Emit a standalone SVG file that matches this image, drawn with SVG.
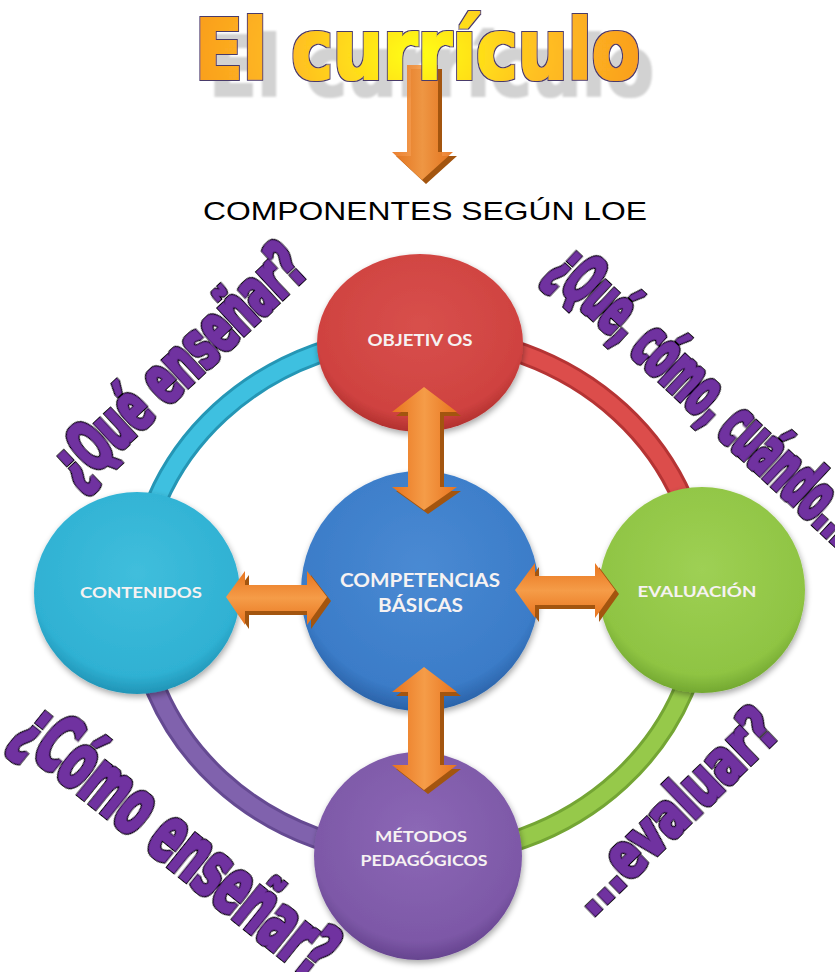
<svg xmlns="http://www.w3.org/2000/svg" width="835" height="972" viewBox="0 0 835 972">
<defs>
<style>
.corner{font-family:"Liberation Sans Narrow","DejaVu Sans Condensed","Liberation Sans",sans-serif;font-weight:bold;fill:#7030a0;filter:url(#fatPurple)}
.lbl{font-family:Lato,"Open Sans","Liberation Sans",sans-serif;font-weight:bold;fill:#f6f2f2;text-anchor:middle}
.ringdark{fill:none;stroke-width:22;stroke-linecap:butt}
.ringmain{fill:none;stroke-width:16}
.ah{fill:#a3550f}
.ttl{font-family:"Liberation Sans Narrow","DejaVu Sans Condensed","Liberation Sans",sans-serif;font-weight:bold;font-size:84px}
</style>
<radialGradient id="gTitle" cx="0.5" cy="0.55" r="0.6" gradientTransform="translate(0.5 0.55) scale(1 3) translate(-0.5 -0.55)">
<stop offset="0" stop-color="#ffff10"/><stop offset="0.45" stop-color="#ffc020"/><stop offset="1" stop-color="#f7901e"/>
</radialGradient>
<radialGradient id="gRed" cx="0.5" cy="0.4" r="0.6"><stop offset="0" stop-color="#d8504c"/><stop offset="0.85" stop-color="#cf4240"/><stop offset="1" stop-color="#b1302e"/></radialGradient>
<radialGradient id="gBlue" cx="0.5" cy="0.4" r="0.6"><stop offset="0" stop-color="#4a8ad3"/><stop offset="0.85" stop-color="#3b7cc8"/><stop offset="1" stop-color="#2a62a8"/></radialGradient>
<radialGradient id="gCyan" cx="0.5" cy="0.4" r="0.6"><stop offset="0" stop-color="#40bedc"/><stop offset="0.85" stop-color="#2fb1d3"/><stop offset="1" stop-color="#2194b6"/></radialGradient>
<radialGradient id="gGreen" cx="0.5" cy="0.4" r="0.6"><stop offset="0" stop-color="#9ed054"/><stop offset="0.85" stop-color="#8fc443"/><stop offset="1" stop-color="#73a831"/></radialGradient>
<radialGradient id="gPurple" cx="0.5" cy="0.4" r="0.6"><stop offset="0" stop-color="#8c68b6"/><stop offset="0.85" stop-color="#7d58a7"/><stop offset="1" stop-color="#66448f"/></radialGradient>
<linearGradient id="gArrV" x1="0" y1="0" x2="1" y2="0"><stop offset="0" stop-color="#e8741e"/><stop offset="0.5" stop-color="#f59c48"/><stop offset="1" stop-color="#e8741e"/></linearGradient>
<linearGradient id="gArrH" x1="0" y1="0" x2="0" y2="1"><stop offset="0" stop-color="#e8741e"/><stop offset="0.5" stop-color="#f59c48"/><stop offset="1" stop-color="#e8741e"/></linearGradient>
<filter id="shadow" x="-20%" y="-20%" width="140%" height="140%"><feGaussianBlur in="SourceAlpha" stdDeviation="3"/><feOffset dx="1" dy="3"/><feComponentTransfer><feFuncA type="linear" slope="0.35"/></feComponentTransfer><feMerge><feMergeNode/><feMergeNode in="SourceGraphic"/></feMerge></filter>
<filter id="blur1" x="-5%" y="-20%" width="110%" height="140%"><feMorphology operator="dilate" radius="1"/><feGaussianBlur stdDeviation="1"/></filter>
<filter id="fatPurple" x="-10%" y="-30%" width="120%" height="160%">
<feMorphology in="SourceAlpha" operator="dilate" radius="2.2" result="o"/>
<feFlood flood-color="#000000"/><feComposite in2="o" operator="in" result="black"/>
<feMorphology in="SourceGraphic" operator="dilate" radius="0.5" result="p"/>
<feMerge><feMergeNode in="black"/><feMergeNode in="p"/></feMerge>
</filter>
<filter id="fatTitle" x="-5%" y="-20%" width="110%" height="140%">
<feMorphology in="SourceAlpha" operator="dilate" radius="2.4" result="o"/>
<feFlood flood-color="#4a3a6a"/><feComposite in2="o" operator="in" result="dark"/>
<feMorphology in="SourceGraphic" operator="dilate" radius="0.9" result="p"/>
<feMerge><feMergeNode in="dark"/><feMergeNode in="p"/></feMerge>
</filter>
</defs>
<rect width="835" height="972" fill="#ffffff"/>

<g id="title">
<text class="ttl" x="209" y="96" textLength="445" lengthAdjust="spacingAndGlyphs" fill="#d2d2d2" filter="url(#blur1)">El currículo</text>
<g id="title-arrow">
<polygon class="ah" points="411,69 442,69 442,156 457,156 426,184 396,156 411,156"/>
<polygon fill="url(#gArrV)" opacity="0.92" points="407,65 438,65 438,152 453,152 422,180 392,152 407,152"/>
</g>
<text class="ttl" x="195" y="79" textLength="445" lengthAdjust="spacingAndGlyphs" fill="url(#gTitle)" filter="url(#fatTitle)">El currículo</text>
</g>

<g id="subtitle">
<text x="203" y="220" font-family="'Liberation Sans',Arial,sans-serif" font-size="26" textLength="444" lengthAdjust="spacingAndGlyphs" fill="#000">COMPONENTES SEGÚN LOE</text>
</g>

<g id="ring">
<path class="ringdark" stroke="#2596b5" d="M420,336 A283,260 0 0 0 137,596"/>
<path class="ringmain" stroke="#3ec0e0" d="M420,336 A283,260 0 0 0 137,596"/>
<path class="ringdark" stroke="#b53434" d="M420,336 A283,260 0 0 1 703,596"/>
<path class="ringmain" stroke="#dc4d4b" d="M420,336 A283,260 0 0 1 703,596"/>
<path class="ringdark" stroke="#74a534" d="M703,596 A283,260 0 0 1 420,856"/>
<path class="ringmain" stroke="#96c94a" d="M703,596 A283,260 0 0 1 420,856"/>
<path class="ringdark" stroke="#654a92" d="M420,856 A283,260 0 0 1 137,596"/>
<path class="ringmain" stroke="#8062ad" d="M420,856 A283,260 0 0 1 137,596"/>
</g>

<g id="objetivos">
<ellipse cx="420" cy="343" rx="103" ry="89" fill="url(#gRed)" filter="url(#shadow)"/>
<text class="lbl" x="420" y="346" font-size="17" textLength="105" lengthAdjust="spacingAndGlyphs">OBJETIV OS</text>
</g>
<g id="contenidos">
<ellipse cx="137" cy="593" rx="103" ry="101" fill="url(#gCyan)" filter="url(#shadow)"/>
<text class="lbl" x="141" y="598" font-size="16" textLength="122" lengthAdjust="spacingAndGlyphs">CONTENIDOS</text>
</g>
<g id="evaluacion">
<ellipse cx="702" cy="590" rx="103" ry="103" fill="url(#gGreen)" filter="url(#shadow)"/>
<text class="lbl" x="697" y="597" font-size="16" textLength="119" lengthAdjust="spacingAndGlyphs">EVALUACIÓN</text>
</g>
<g id="metodos">
<ellipse cx="418" cy="856" rx="104" ry="104" fill="url(#gPurple)" filter="url(#shadow)"/>
<text class="lbl" x="421" y="842" font-size="16" textLength="92" lengthAdjust="spacingAndGlyphs">MÉTODOS</text>
<text class="lbl" x="424" y="866" font-size="16" textLength="127" lengthAdjust="spacingAndGlyphs">PEDAGÓGICOS</text>
</g>
<g id="competencias">
<ellipse cx="420" cy="591" rx="119" ry="120" fill="url(#gBlue)" filter="url(#shadow)"/>
<text class="lbl" x="420" y="587" font-size="18" textLength="160" lengthAdjust="spacingAndGlyphs">COMPETENCIAS</text>
<text class="lbl" x="420.5" y="612" font-size="18" textLength="85" lengthAdjust="spacingAndGlyphs">BÁSICAS</text>
</g>

<g id="connectors">
<g id="arrow-top">
<polygon class="ah" points="428,391 461,416 444,416 444,491 461,491 428,514 396,491 412,491 412,416 396,416"/>
<polygon fill="url(#gArrV)" points="424,387 457,412 440,412 440,487 457,487 424,510 392,487 408,487 408,412 392,412"/>
</g>
<g id="arrow-bottom">
<polygon class="ah" points="428,671 461,696 444,696 444,769 461,769 428,794 396,769 412,769 412,696 396,696"/>
<polygon fill="url(#gArrV)" points="424,667 457,692 440,692 440,765 457,765 424,790 392,765 408,765 408,692 392,692"/>
</g>
<g id="arrow-left">
<polygon class="ah" points="230,601 249,575 249,589 311,589 311,575 331,601 311,629 311,615 249,615 249,629"/>
<polygon fill="url(#gArrH)" points="226,597 245,571 245,585 307,585 307,571 327,597 307,625 307,611 245,611 245,625"/>
</g>
<g id="arrow-right">
<polygon class="ah" points="519,594 539,567 539,580 599,580 599,567 619,594 599,622 599,609 539,609 539,622"/>
<polygon fill="url(#gArrH)" points="515,590 535,563 535,576 595,576 595,563 615,590 595,618 595,605 535,605 535,618"/>
</g>
</g>

<g id="corner-texts">
<text class="corner" transform="translate(78 490) rotate(-43)" x="0" y="0" font-size="68" textLength="318" lengthAdjust="spacingAndGlyphs">¿Qué enseñar?</text>
<text class="corner" transform="translate(545 275) rotate(43)" x="0" y="0" font-size="67" textLength="400" lengthAdjust="spacingAndGlyphs">¿Qué, cómo, cuándo...</text>
<text class="corner" transform="translate(10 740) rotate(38.8)" x="0" y="0" font-size="78" textLength="386" lengthAdjust="spacingAndGlyphs">¿Cómo enseñar?</text>
<text class="corner" transform="translate(592 918) rotate(-44)" x="0" y="0" font-size="62" textLength="265" lengthAdjust="spacingAndGlyphs">...evaluar?</text>
</g>
</svg>
